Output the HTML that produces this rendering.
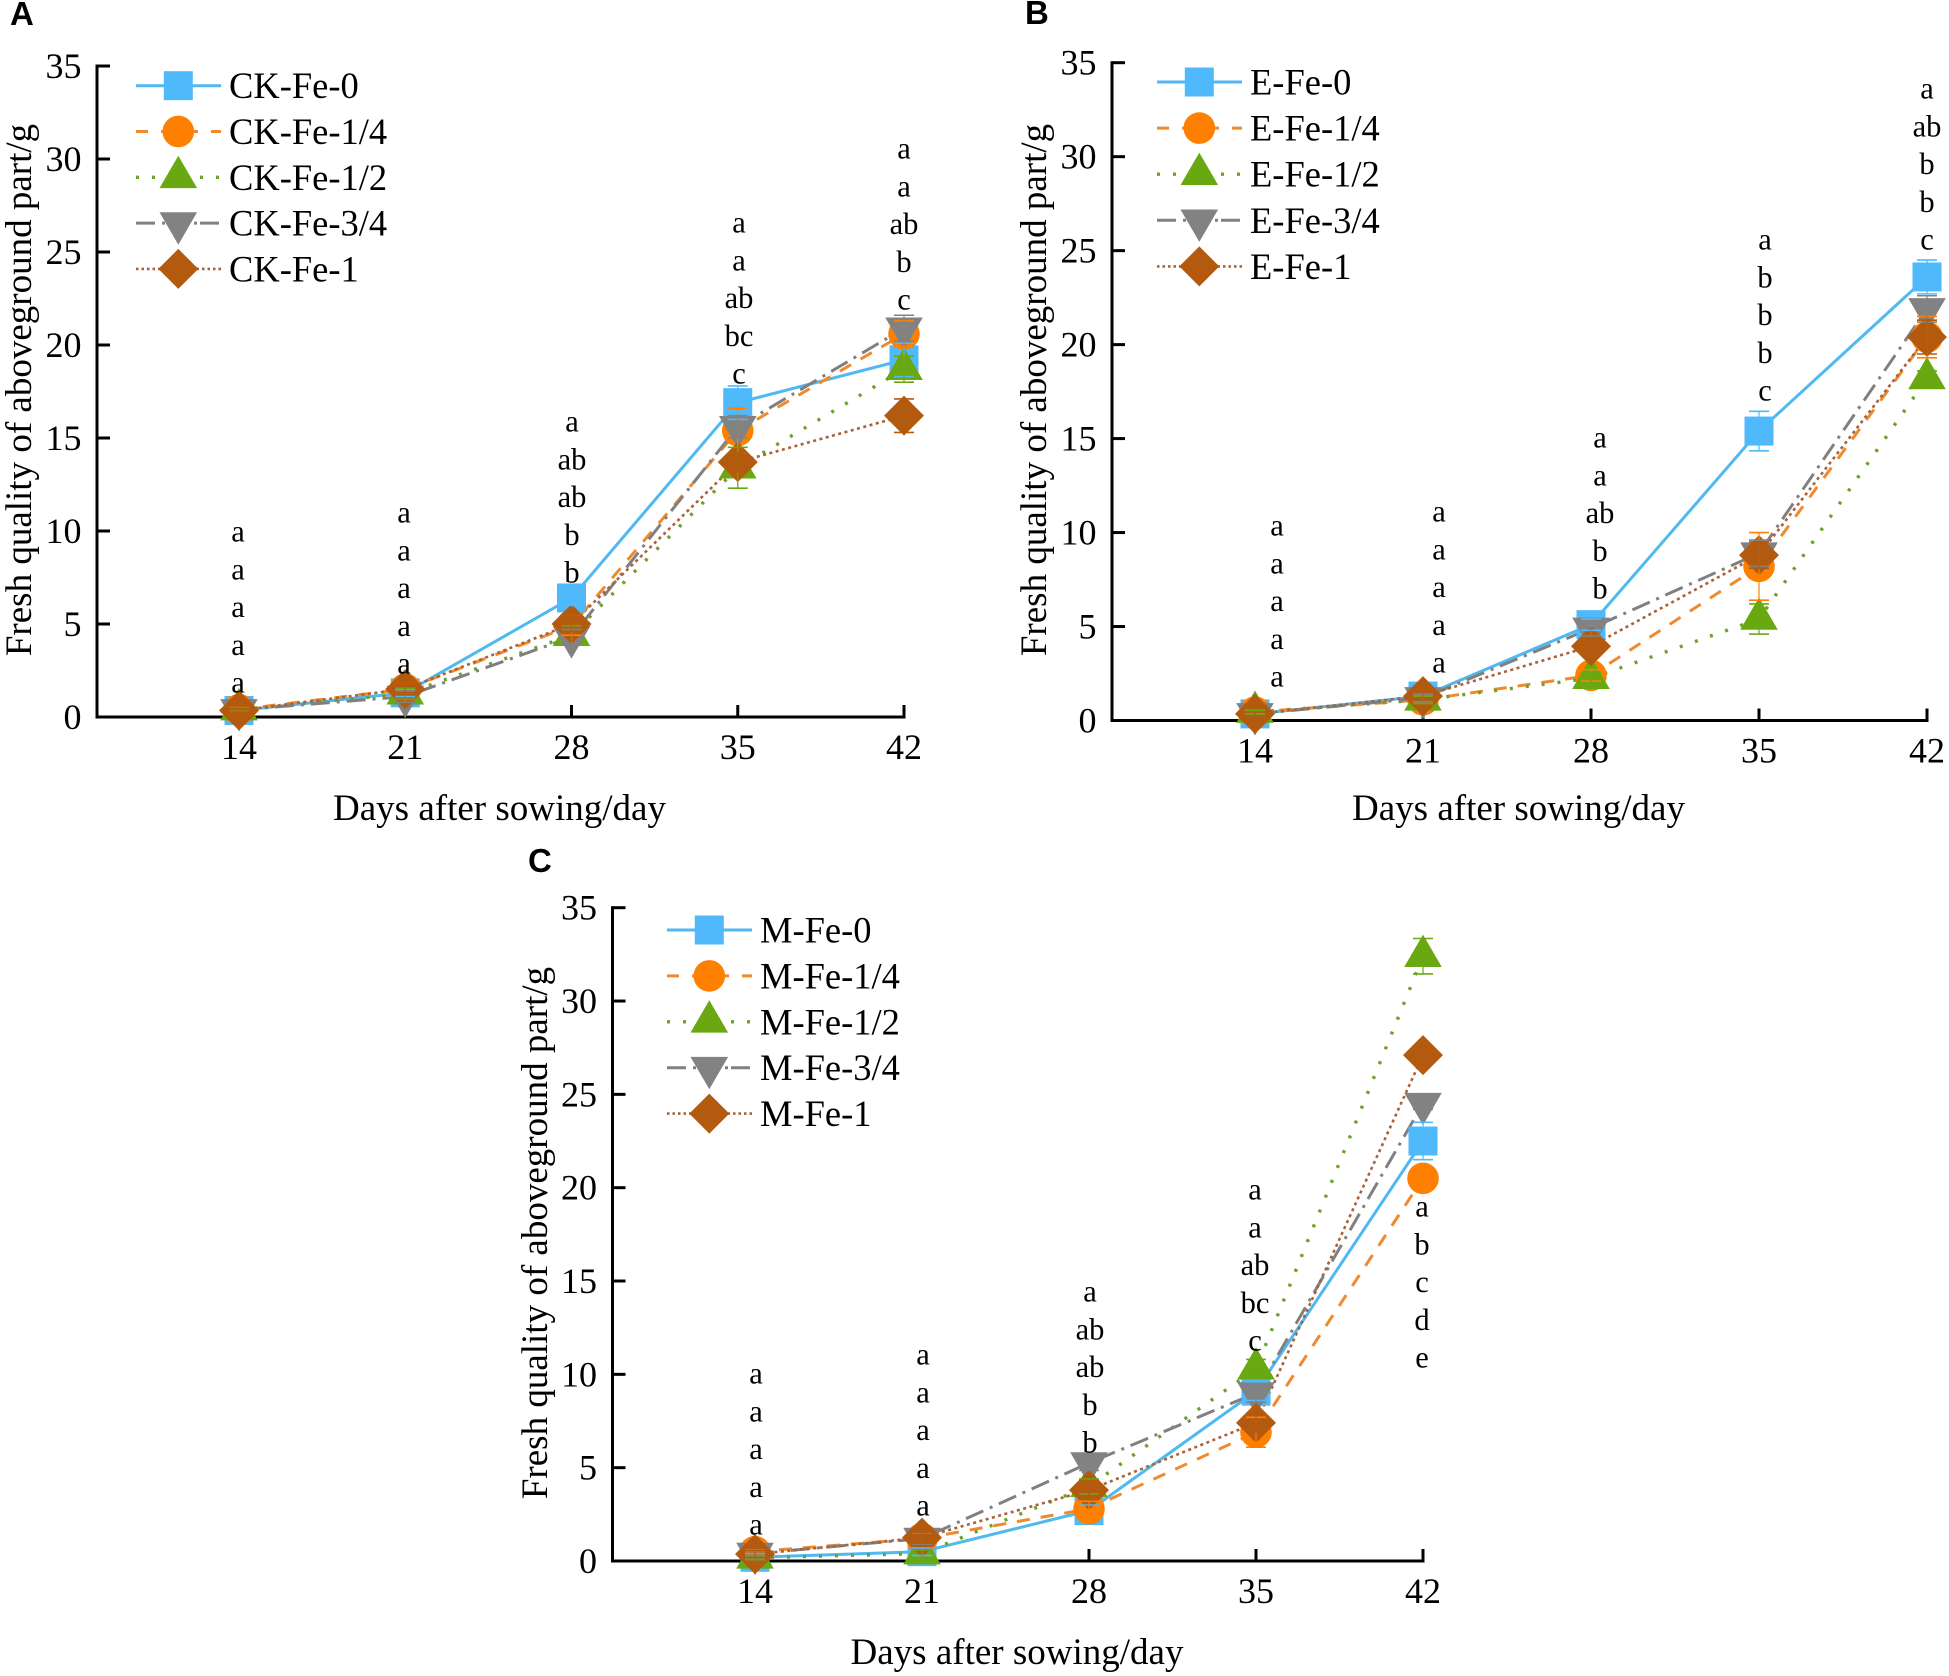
<!DOCTYPE html>
<html>
<head>
<meta charset="utf-8">
<title>Fresh quality of aboveground part</title>
<style>
html,body{margin:0;padding:0;background:#fff;}
svg{display:block;font-family:"Liberation Serif",serif;fill:#000;}
.sig{font-size:30.5px;text-anchor:middle;}
.panel-label{font-family:"Liberation Sans",sans-serif;font-weight:bold;font-size:33px;}
</style>
</head>
<body>
<svg id="chart" xmlns="http://www.w3.org/2000/svg" width="1949" height="1676" viewBox="0 0 1949 1676">
<rect width="1949" height="1676" fill="#fff"/>
<text class="panel-label" x="10" y="25">A</text>
<text class="panel-label" x="1025" y="24">B</text>
<text class="panel-label" x="528" y="872">C</text>
<g id="plots"></g>
<g id="letters" transform="translate(0,1.5)">
<text class="sig" y="540"><tspan x="238">a</tspan><tspan x="238" dy="37.8">a</tspan><tspan x="238" dy="37.8">a</tspan><tspan x="238" dy="37.8">a</tspan><tspan x="238" dy="37.8">a</tspan></text>
<text class="sig" y="521"><tspan x="404">a</tspan><tspan x="404" dy="37.8">a</tspan><tspan x="404" dy="37.8">a</tspan><tspan x="404" dy="37.8">a</tspan><tspan x="404" dy="37.8">a</tspan></text>
<text class="sig" y="430"><tspan x="572">a</tspan><tspan x="572" dy="37.8">ab</tspan><tspan x="572" dy="37.8">ab</tspan><tspan x="572" dy="37.8">b</tspan><tspan x="572" dy="37.8">b</tspan></text>
<text class="sig" y="231"><tspan x="739">a</tspan><tspan x="739" dy="37.8">a</tspan><tspan x="739" dy="37.8">ab</tspan><tspan x="739" dy="37.8">bc</tspan><tspan x="739" dy="37.8">c</tspan></text>
<text class="sig" y="157"><tspan x="904">a</tspan><tspan x="904" dy="37.8">a</tspan><tspan x="904" dy="37.8">ab</tspan><tspan x="904" dy="37.8">b</tspan><tspan x="904" dy="37.8">c</tspan></text>
<text class="sig" y="534"><tspan x="1277">a</tspan><tspan x="1277" dy="37.8">a</tspan><tspan x="1277" dy="37.8">a</tspan><tspan x="1277" dy="37.8">a</tspan><tspan x="1277" dy="37.8">a</tspan></text>
<text class="sig" y="520"><tspan x="1439">a</tspan><tspan x="1439" dy="37.8">a</tspan><tspan x="1439" dy="37.8">a</tspan><tspan x="1439" dy="37.8">a</tspan><tspan x="1439" dy="37.8">a</tspan></text>
<text class="sig" y="446"><tspan x="1600">a</tspan><tspan x="1600" dy="37.8">a</tspan><tspan x="1600" dy="37.8">ab</tspan><tspan x="1600" dy="37.8">b</tspan><tspan x="1600" dy="37.8">b</tspan></text>
<text class="sig" y="248"><tspan x="1765">a</tspan><tspan x="1765" dy="37.8">b</tspan><tspan x="1765" dy="37.8">b</tspan><tspan x="1765" dy="37.8">b</tspan><tspan x="1765" dy="37.8">c</tspan></text>
<text class="sig" y="97"><tspan x="1927">a</tspan><tspan x="1927" dy="37.8">ab</tspan><tspan x="1927" dy="37.8">b</tspan><tspan x="1927" dy="37.8">b</tspan><tspan x="1927" dy="37.8">c</tspan></text>
<text class="sig" y="1382"><tspan x="756">a</tspan><tspan x="756" dy="37.8">a</tspan><tspan x="756" dy="37.8">a</tspan><tspan x="756" dy="37.8">a</tspan><tspan x="756" dy="37.8">a</tspan></text>
<text class="sig" y="1363"><tspan x="923">a</tspan><tspan x="923" dy="37.8">a</tspan><tspan x="923" dy="37.8">a</tspan><tspan x="923" dy="37.8">a</tspan><tspan x="923" dy="37.8">a</tspan></text>
<text class="sig" y="1300"><tspan x="1090">a</tspan><tspan x="1090" dy="37.8">ab</tspan><tspan x="1090" dy="37.8">ab</tspan><tspan x="1090" dy="37.8">b</tspan><tspan x="1090" dy="37.8">b</tspan></text>
<text class="sig" y="1198"><tspan x="1255">a</tspan><tspan x="1255" dy="37.8">a</tspan><tspan x="1255" dy="37.8">ab</tspan><tspan x="1255" dy="37.8">bc</tspan><tspan x="1255" dy="37.8">c</tspan></text>
<text class="sig" y="1215"><tspan x="1422">a</tspan><tspan x="1422" dy="37.8">b</tspan><tspan x="1422" dy="37.8">c</tspan><tspan x="1422" dy="37.8">d</tspan><tspan x="1422" dy="37.8">e</tspan></text>
</g>
</svg>
<script>
// ---- data ----
const days = [14, 21, 28, 35, 42];
const yTicks = [0, 5, 10, 15, 20, 25, 30, 35];

const ckFe0  = [0.35, 1.3, 6.4, 16.9, 19.2];
const ckFe14 = [0.4, 1.5, 4.9, 15.4, 20.6];
const ckFe12 = [0.4, 1.25, 4.4, 13.4, 18.7];
const ckFe34 = [0.38, 1.1, 4.3, 15.6, 20.9];
const ckFe1  = [0.35, 1.5, 5.0, 13.7, 16.2];
const ckErr0  = [0.1, 0.2, 0.4, 0.9, 0.9];
const ckErr14 = [0.1, 0.3, 0.5, 1.2, 0.7];
const ckErr12 = [0.1, 0.3, 0.5, 1.1, 0.7];
const ckErr34 = [0.1, 0.3, 0.4, 0.6, 0.7];
const ckErr1  = [0.1, 0.3, 0.4, 0.5, 0.9];

const eFe0  = [0.35, 1.3, 5.1, 15.4, 23.6];
const eFe14 = [0.45, 1.1, 2.4, 8.2, 20.4];
const eFe12 = [0.45, 1.1, 2.25, 5.4, 18.2];
const eFe34 = [0.35, 1.2, 4.9, 8.9, 21.9];
const eFe1  = [0.35, 1.3, 3.95, 8.8, 20.4];
const eErr0  = [0.1, 0.2, 0.3, 1.05, 0.9];
const eErr14 = [0.1, 0.2, 0.3, 1.8, 1.1];
const eErr12 = [0.1, 0.2, 0.3, 0.8, 0.4];
const eErr34 = [0.1, 0.2, 0.4, 0.7, 0.7];
const eErr1  = [0.1, 0.2, 0.4, 0.7, 0.9];

const mFe0  = [0.2, 0.5, 2.7, 9.1, 22.5];
const mFe14 = [0.5, 1.2, 2.8, 6.9, 20.5];
const mFe12 = [0.17, 0.4, 4.0, 10.3, 32.4];
const mFe34 = [0.4, 1.2, 5.25, 9.0, 24.5];
const mFe1  = [0.37, 1.25, 3.8, 7.4, 27.1];
const mErr0  = [0.1, 0.2, 0.3, 0.5, 1.0];
const mErr14 = [0.1, 0.3, 0.4, 0.8, 0.2];
const mErr12 = [0.1, 0.2, 0.4, 0.5, 0.95];
const mErr34 = [0.1, 0.3, 0.4, 0.5, 0.3];
const mErr1  = [0.2, 0.3, 0.5, 0.5, 0.2];

const ckNames = ['CK-Fe-0', 'CK-Fe-1/4', 'CK-Fe-1/2', 'CK-Fe-3/4', 'CK-Fe-1'];
const eNames  = ['E-Fe-0', 'E-Fe-1/4', 'E-Fe-1/2', 'E-Fe-3/4', 'E-Fe-1'];
const mNames  = ['M-Fe-0', 'M-Fe-1/4', 'M-Fe-1/2', 'M-Fe-3/4', 'M-Fe-1'];

// ---- styling ----
const NS = 'http://www.w3.org/2000/svg';
const colors = ['#4fb9fb', '#ff8000', '#69a811', '#828282', '#b35a0e'];
const lineColors = ['#4fb9f0', '#ef8a2e', '#6ba32a', '#808080', '#a8623a'];
const dashes = ['', '13 11', '3 13', '19 7 3 7', '3 3.5'];
const widths = [3, 3, 3.4, 3, 2.6];
const legendDash = ['', '12 13', '3 13', '19 7 3 3', '2.5 3'];

function mk(tag, parent) {
  const el = document.createElementNS(NS, tag);
  parent.appendChild(el);
  return el;
}
function setAll(el, props) {
  for (const k in props) el.setAttribute(k, props[k]);
}
function drawSegment(parent, x1, y1, x2, y2, color, w) {
  const l = mk('line', parent);
  setAll(l, {x1: x1, y1: y1, x2: x2, y2: y2, stroke: color, 'stroke-width': w});
  return l;
}
function drawMarker(parent, kind, x, y) {
  let m;
  if (kind === 0) {
    m = mk('rect', parent);
    setAll(m, {x: x - 14.5, y: y - 14.5, width: 29, height: 29});
  } else if (kind === 1) {
    m = mk('circle', parent);
    setAll(m, {cx: x, cy: y, r: 15.8});
  } else if (kind === 2) {
    m = mk('polygon', parent);
    m.setAttribute('points', (x - 18.8) + ',' + (y + 10.8) + ' ' + (x + 18.8) + ',' + (y + 10.8) + ' ' + x + ',' + (y - 21.6));
  } else if (kind === 3) {
    m = mk('polygon', parent);
    m.setAttribute('points', (x - 18.8) + ',' + (y - 10.8) + ' ' + (x + 18.8) + ',' + (y - 10.8) + ' ' + x + ',' + (y + 21.6));
  } else {
    m = mk('polygon', parent);
    m.setAttribute('points', (x - 20) + ',' + y + ' ' + x + ',' + (y - 20) + ' ' + (x + 20) + ',' + y + ' ' + x + ',' + (y + 20));
  }
  m.setAttribute('fill', colors[kind]);
  return m;
}
function drawText(parent, str, x, y, size, anchor) {
  const t = mk('text', parent);
  setAll(t, {x: x, y: y, 'font-size': size, 'text-anchor': anchor});
  t.textContent = str;
  return t;
}

function drawPanel(cfg) {
  const root = document.getElementById('plots');
  const g = mk('g', root);
  
  

  const xScale = function (day) { return cfg.x14 + (day - days[0]) * cfg.dx / 7; };
  const yScale = function (v) { return cfg.y0 + (cfg.y35 - cfg.y0) * v / 35; };

  // axes
  const axes = mk('g', g);
  
  
  const yAxis = drawSegment(axes, cfg.axisX, yScale(35) - 1.5, cfg.axisX, yScale(0) + 1.5, '#000', 3);
  
  
  const xAxis = drawSegment(axes, cfg.axisX, yScale(0), xScale(days[4]) + 1.5, yScale(0), '#000', 3);
  
  

  yTicks.forEach(function (v) {
    const tick = drawSegment(axes, cfg.axisX, yScale(v), cfg.axisX + 13, yScale(v), '#000', 3);
    
    
    const label = drawText(axes, String(v), cfg.axisX - 15.5, yScale(v) + 12, 36, 'end');
    
    
  });
  days.forEach(function (d) {
    const tick = drawSegment(axes, xScale(d), yScale(0), xScale(d), yScale(0) - 12, '#000', 3);
    
    
    const label = drawText(axes, String(d), xScale(d), yScale(0) + 42, 36, 'middle');
    
    
  });
  const xTitle = drawText(axes, 'Days after sowing/day', cfg.xTitleX, cfg.xTitleY, 37, 'middle');
  
  
  const yTitle = drawText(axes, 'Fresh quality of aboveground part/g', 0, 0, 37, 'middle');
  yTitle.setAttribute('transform', 'translate(' + cfg.yTitleX + ',' + cfg.yTitleY + ') rotate(-90)');
  
  

  // series lines
  cfg.series.forEach(function (values, s) {
    const p = mk('polyline', g);
    p.setAttribute('points', values.map(function (v, i) { return xScale(days[i]) + ',' + yScale(v); }).join(' '));
    p.setAttribute('fill', 'none');
    p.setAttribute('stroke', lineColors[s]);
    p.setAttribute('stroke-width', widths[s]);
    if (dashes[s]) p.setAttribute('stroke-dasharray', dashes[s]);
    
    
  });

  // markers
  cfg.series.forEach(function (values, s) {
    values.forEach(function (v, i) {
      const m = drawMarker(g, s, xScale(days[i]), yScale(v));
      
      
    });
  });

  // error bars on top of markers
  cfg.series.forEach(function (values, s) {
    values.forEach(function (v, i) {
      const eb = mk('g', g);
      
      
      const x = xScale(days[i]);
      const top = yScale(v + cfg.errors[s][i]);
      const bot = yScale(v - cfg.errors[s][i]);
      drawSegment(eb, x, top, x, bot, colors[s], 1.2);
      drawSegment(eb, x - 10, top, x + 10, top, colors[s], 1.6);
      drawSegment(eb, x - 10, bot, x + 10, bot, colors[s], 1.6);
    });
  });

  // legend
  const lg = mk('g', g);
  
  
  cfg.names.forEach(function (name, s) {
    const entry = mk('g', lg);
    
    
    const ly = cfg.legendY + s * cfg.legendStep;
    const seg = drawSegment(entry, cfg.legendX, ly, cfg.legendX + 85, ly, lineColors[s], widths[s]);
    if (legendDash[s]) seg.setAttribute('stroke-dasharray', legendDash[s]);
    drawMarker(entry, s, cfg.legendX + 42.3, ly);
    drawText(entry, name, cfg.legendX + 93, ly + 12.5, 36.5, 'start');
  });
}

drawPanel({
  id: 'a', names: ckNames,
  series: [ckFe0, ckFe14, ckFe12, ckFe34, ckFe1],
  errors: [ckErr0, ckErr14, ckErr12, ckErr34, ckErr1],
  axisX: 97, x14: 239, dx: 166.25, y0: 717, y35: 66,
  xTitleX: 499.5, xTitleY: 820, yTitleX: 31, yTitleY: 390,
  legendX: 136, legendY: 85.7, legendStep: 45.8
});
drawPanel({
  id: 'b', names: eNames,
  series: [eFe0, eFe14, eFe12, eFe34, eFe1],
  errors: [eErr0, eErr14, eErr12, eErr34, eErr1],
  axisX: 1112, x14: 1255, dx: 168, y0: 720.5, y35: 62.7,
  xTitleX: 1518.5, xTitleY: 820, yTitleX: 1046, yTitleY: 390,
  legendX: 1157, legendY: 82, legendStep: 46.1
});
drawPanel({
  id: 'c', names: mNames,
  series: [mFe0, mFe14, mFe12, mFe34, mFe1],
  errors: [mErr0, mErr14, mErr12, mErr34, mErr1],
  axisX: 612.5, x14: 755, dx: 167, y0: 1561, y35: 907.7,
  xTitleX: 1017, xTitleY: 1664, yTitleX: 547, yTitleY: 1233,
  legendX: 667, legendY: 930, legendStep: 45.9
});
</script>
</body>
</html>
